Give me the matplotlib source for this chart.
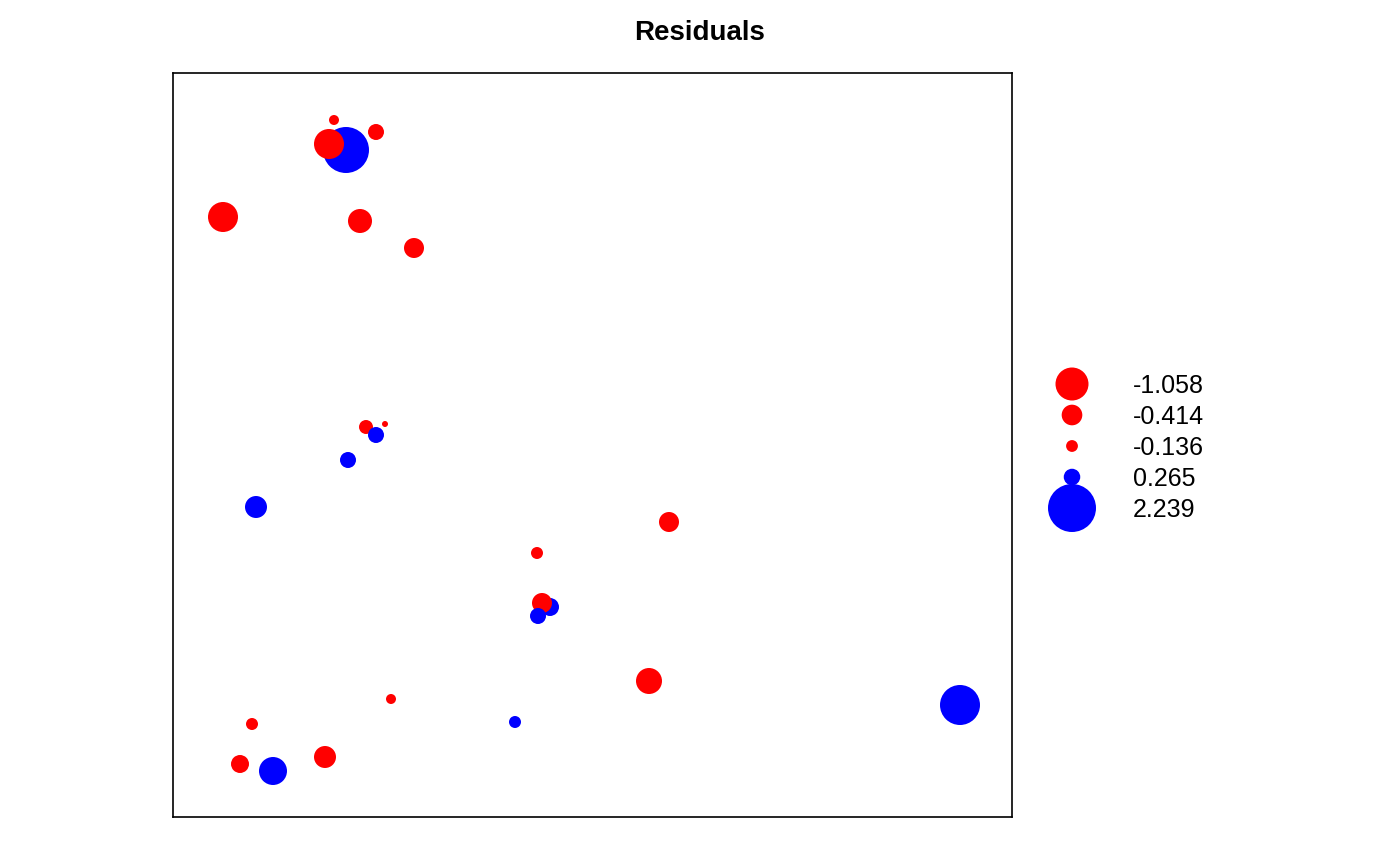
import numpy as np
import matplotlib
matplotlib.use('Agg')
import matplotlib.pyplot as plt

plt.rcParams['font.family'] = ['Liberation Sans', 'DejaVu Sans']

# locations (arbitrary plot units) and residuals
x = [161, 203, 173, 156, 50, 187, 241, 193, 212, 203, 175, 83, 496, 364,
     377, 369, 365, 476, 787, 218, 79, 342, 67, 100, 152]
y = [697, 685, 667, 673, 600, 596, 569, 390, 393, 382, 357, 310, 295, 264,
     210, 214, 201, 136, 112, 118, 93, 95, 53, 46, 60]
resid = [-0.097, -0.249, 2.056, -0.875, -0.875, -0.56, -0.389, -0.19, -0.035,
         0.249, 0.249, 0.47, -0.389, -0.14, 0.315, -0.389, 0.249, -0.657,
         1.555, -0.097, -0.14, 0.14, -0.315, 0.762, -0.47]
leg_vals = [-1.058, -0.414, -0.136, 0.265, 2.239]

zmax = 2.239
def size(z):
    r_px = 24 * np.sqrt(np.abs(np.asarray(z)) / zmax)
    return (2 * r_px * 0.72) ** 2

def col(z):
    return ['red' if v < 0 else 'blue' for v in z]

fig = plt.figure(figsize=(14, 8.65), dpi=100)
ax = fig.add_axes([173/1400, 1 - 817/865, 839/1400, 744/865])
ax.scatter(x, y, s=size(resid), c=col(resid), linewidths=0)
ax.set_xlim(0, 839)
ax.set_ylim(0, 744)
ax.set_xticks([])
ax.set_yticks([])
for sp in ax.spines.values():
    sp.set_linewidth(1.2)
fig.text(700/1400, 1 - 33/865, 'Residuals', ha='center', va='center',
         fontsize=20, fontweight='bold')

# legend
lax = fig.add_axes([1030/1400, 1 - 540/865, 300/1400, 190/865])
lax.set_xlim(0, 300)
lax.set_ylim(190, 0)
lax.axis('off')
ly = [384, 415, 446, 477, 508]
ly = [v - 350 for v in ly]
lax.scatter([42] * 5, ly, s=size(leg_vals), c=col(leg_vals), linewidths=0,
            clip_on=False)
for yy, v in zip(ly, leg_vals):
    lax.text(103, yy + 2, f'{v:.3f}', va='center', ha='left', fontsize=18)

fig.savefig('out.png', dpi=100)
